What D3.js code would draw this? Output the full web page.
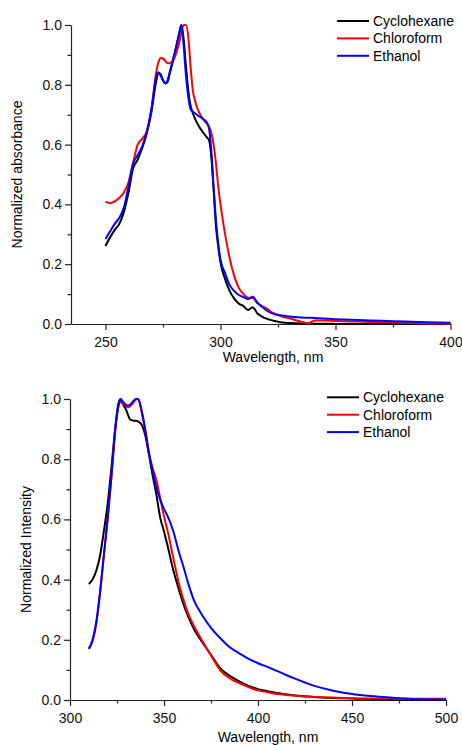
<!DOCTYPE html>
<html>
<head>
<meta charset="utf-8">
<script src="https://cdn.jsdelivr.net/npm/d3@7"></script>
<style>
  body { margin: 0; background: #fff; }
  svg { display: block; font-family: "Liberation Sans", Arial, sans-serif; }
  .axis path, .axis line { stroke: #222; stroke-width: 1.2; }
  .axis text { font-size: 14px; fill: #111; }
</style>
</head>
<body>
<svg id="chart" width="462" height="745"></svg>
<script>
// ---- data ----
var solvents = ["Cyclohexane", "Chloroform", "Ethanol"];
var colors = ["#000000", "#ff0000", "#0000ff"];

// absorption spectra
var absWl = [250, 252, 254, 256, 258, 260, 262, 264, 266, 268, 270, 272, 273, 274, 275, 276, 277, 278, 280, 282, 283, 284, 285, 286, 287, 288, 289, 290, 292, 294, 295, 296, 297, 298, 299, 300, 302, 304, 306, 308, 310, 312, 314, 316, 318, 320, 323, 326, 330, 335, 338, 341, 345, 350, 360, 370, 380, 390, 400];
var absCyclohexane = [0.261, 0.29, 0.315, 0.335, 0.375, 0.44, 0.52, 0.55, 0.59, 0.64, 0.71, 0.81, 0.84, 0.835, 0.815, 0.805, 0.81, 0.84, 0.9, 0.97, 1.0, 0.95, 0.86, 0.78, 0.73, 0.705, 0.685, 0.67, 0.645, 0.625, 0.615, 0.56, 0.45, 0.33, 0.26, 0.205, 0.15, 0.11, 0.085, 0.068, 0.06, 0.047, 0.056, 0.036, 0.025, 0.018, 0.011, 0.006, 0.003, 0.002, 0.002, 0.001, 0.001, 0.0, 0.0, 0.0, 0.0, 0.0, 0.0];
var absChloroform = [0.409, 0.404, 0.41, 0.422, 0.44, 0.475, 0.54, 0.6, 0.62, 0.645, 0.72, 0.84, 0.875, 0.89, 0.888, 0.88, 0.872, 0.873, 0.89, 0.94, 0.975, 1.0, 1.0, 0.96, 0.86, 0.78, 0.745, 0.72, 0.69, 0.67, 0.66, 0.64, 0.6, 0.54, 0.46, 0.4, 0.3, 0.22, 0.16, 0.12, 0.1, 0.088, 0.087, 0.07, 0.06, 0.052, 0.036, 0.027, 0.019, 0.008, 0.002, 0.012, 0.012, 0.01, 0.008, 0.006, 0.004, 0.002, 0.001];
var absEthanol = [0.284, 0.31, 0.335, 0.355, 0.39, 0.46, 0.535, 0.565, 0.595, 0.645, 0.72, 0.825, 0.842, 0.83, 0.815, 0.805, 0.815, 0.845, 0.905, 0.97, 1.0, 0.93, 0.83, 0.76, 0.718, 0.71, 0.705, 0.698, 0.688, 0.675, 0.655, 0.58, 0.46, 0.35, 0.27, 0.215, 0.17, 0.13, 0.11, 0.097, 0.09, 0.083, 0.091, 0.072, 0.058, 0.045, 0.034, 0.029, 0.025, 0.022, 0.021, 0.02, 0.018, 0.016, 0.013, 0.011, 0.008, 0.006, 0.004];

// emission spectra
var emWl = [310, 312, 314, 316, 318, 320, 322, 324, 325, 326, 327, 328, 330, 331, 332, 334, 335, 336, 337, 338, 340, 342, 344, 346, 348, 350, 352, 355, 358, 360, 363, 366, 370, 375, 380, 385, 390, 395, 400, 405, 410, 415, 420, 430, 440, 450, 460, 470, 480, 490, 500];
var emCyclohexane = [0.385, 0.40, 0.43, 0.48, 0.56, 0.65, 0.77, 0.9, 0.955, 0.99, 1.0, 0.985, 0.962, 0.945, 0.932, 0.928, 0.928, 0.926, 0.922, 0.915, 0.88, 0.815, 0.745, 0.68, 0.605, 0.56, 0.51, 0.43, 0.365, 0.325, 0.275, 0.235, 0.195, 0.15, 0.105, 0.08, 0.062, 0.047, 0.036, 0.029, 0.023, 0.019, 0.015, 0.01, 0.007, 0.005, 0.003, 0.002, 0.001, 0.0, 0.0];
var emChloroform = [0.17, 0.195, 0.255, 0.355, 0.48, 0.6, 0.74, 0.89, 0.945, 0.98, 0.99, 0.985, 0.975, 0.973, 0.976, 0.99, 0.998, 1.0, 0.99, 0.96, 0.895, 0.82, 0.77, 0.73, 0.67, 0.61, 0.56, 0.47, 0.385, 0.34, 0.285, 0.245, 0.2, 0.148, 0.098, 0.072, 0.056, 0.043, 0.032, 0.026, 0.02, 0.017, 0.014, 0.01, 0.008, 0.006, 0.005, 0.005, 0.004, 0.004, 0.004];
var emEthanol = [0.17, 0.2, 0.26, 0.36, 0.48, 0.6, 0.74, 0.895, 0.95, 0.985, 1.0, 0.992, 0.98, 0.978, 0.982, 0.995, 1.0, 1.0, 0.99, 0.965, 0.9, 0.82, 0.76, 0.705, 0.665, 0.635, 0.61, 0.56, 0.49, 0.45, 0.385, 0.33, 0.285, 0.24, 0.205, 0.175, 0.155, 0.137, 0.122, 0.11, 0.097, 0.083, 0.07, 0.047, 0.031, 0.02, 0.013, 0.008, 0.004, 0.002, 0.001];

var yTicks = [0, 0.2, 0.4, 0.6, 0.8, 1.0];
var yMinor = [0.1, 0.3, 0.5, 0.7, 0.9];

var svg = d3.select("#chart");

function drawPanel(p) {
    var x = d3.scaleLinear().domain(p.xDomain).range([p.left, p.right]);
    var y = d3.scaleLinear().domain([0, 1]).range([p.bottom, p.top]);

    var g = svg.append("g");

    // minor ticks first so the major axis draws over them
    g.append("g").attr("class", "axis")
        .attr("transform", "translate(0," + p.bottom + ")")
        .call(d3.axisBottom(x).tickValues(p.xMinor).tickSize(3.5).tickFormat(""))
        .select(".domain").remove();
    g.append("g").attr("class", "axis")
        .attr("transform", "translate(" + p.left + ",0)")
        .call(d3.axisLeft(y).tickValues(yMinor).tickSize(3.5).tickFormat(""))
        .select(".domain").remove();

    g.append("g").attr("class", "axis")
        .attr("transform", "translate(0," + p.bottom + ")")
        .call(d3.axisBottom(x).tickValues(p.xTicks).tickSize(6).tickSizeOuter(0).tickPadding(7).tickFormat(d3.format("d")));
    g.append("g").attr("class", "axis")
        .attr("transform", "translate(" + p.left + ",0)")
        .call(d3.axisLeft(y).tickValues(yTicks).tickSize(6).tickSizeOuter(0).tickPadding(3).tickFormat(d3.format(".1f")));

    var line = d3.line()
        .x(function(d) { return x(d[0]); })
        .y(function(d) { return y(d[1]); })
        .curve(d3.curveMonotoneX);

    p.series.forEach(function(vals, i) {
        var pts = p.wl.map(function(w, j) { return [w, vals[j]]; });
        g.append("path")
            .datum(pts)
            .attr("d", line)
            .attr("fill", "none")
            .attr("stroke", colors[i])
            .attr("stroke-width", 2)
            .attr("stroke-linejoin", "round");
    });

    // axis titles
    g.append("text")
        .attr("x", p.xTitleX)
        .attr("y", p.xTitleY)
        .attr("text-anchor", "middle")
        .style("font-size", "14px")
        .text("Wavelength, nm");
    g.append("text")
        .attr("transform", "translate(" + p.yTitleX + "," + (p.top + p.bottom) / 2 + ") rotate(-90)")
        .attr("text-anchor", "middle")
        .attr("dy", "0.35em")
        .style("font-size", "14px")
        .text(p.yTitle);

    // legend
    var leg = g.selectAll(".leg")
        .data(solvents)
        .enter()
        .append("g")
        .attr("transform", function(d, i) { return "translate(" + p.legX + "," + (p.legY + i * 17.4) + ")"; });
    leg.append("line")
        .attr("x1", 0).attr("x2", 32)
        .attr("stroke", function(d, i) { return colors[i]; })
        .attr("stroke-width", 2);
    leg.append("text")
        .attr("x", 36)
        .attr("dy", "0.35em")
        .style("font-size", "14px")
        .text(function(d) { return d; });
}

drawPanel({
    wl: absWl,
    series: [absCyclohexane, absChloroform, absEthanol],
    xDomain: [235, 400],
    xTicks: [250, 300, 350, 400],
    xMinor: [275, 325, 375],
    left: 71, right: 450.5, top: 25, bottom: 324,
    xTitleX: 273, xTitleY: 362,
    yTitleX: 17, yTitle: "Normalized absorbance",
    legX: 337, legY: 21
});

drawPanel({
    wl: emWl,
    series: [emCyclohexane, emChloroform, emEthanol],
    xDomain: [300, 500],
    xTicks: [300, 350, 400, 450, 500],
    xMinor: [325, 375, 425, 475],
    left: 70, right: 446, top: 399, bottom: 700,
    xTitleX: 268, xTitleY: 742,
    yTitleX: 26, yTitle: "Normalized Intensity",
    legX: 327, legY: 397.3
});
</script>
</body>
</html>
